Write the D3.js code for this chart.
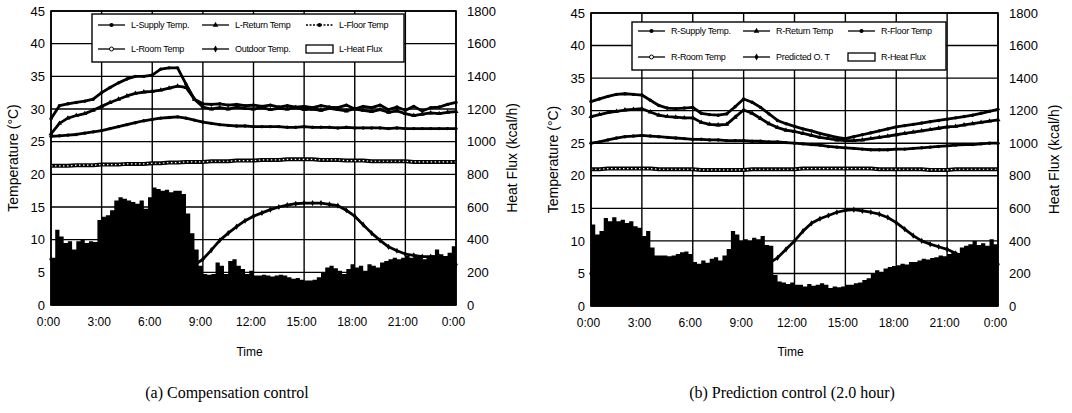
<!DOCTYPE html>
<html><head><meta charset="utf-8">
<script src="https://cdn.jsdelivr.net/npm/d3@7"></script>
<style>
body{margin:0;background:#fff}
svg{display:block}
text{font-family:"Liberation Sans",Arial,sans-serif;fill:#000}
</style></head>
<body><svg id="c" width="1072" height="413"></svg>
<script>
// ---------- data ----------
const timeTickLabels = ["0:00","3:00","6:00","9:00","12:00","15:00","18:00","21:00","0:00"];
const tempTicks = [0,5,10,15,20,25,30,35,40,45];
const fluxTicks = [0,200,400,600,800,1000,1200,1400,1600,1800];

// line series: every 30 min, 0:00 .. 24:00 (49 values)
const L_supply = [28.5,30.5,30.8,31.0,31.2,31.5,32.5,33.3,34.0,34.6,35.0,35.0,35.2,36.1,36.3,36.3,33.8,31.5,30.8,30.7,30.8,30.6,30.7,30.5,30.6,30.4,30.6,30.3,30.5,30.3,30.4,30.2,30.5,30.3,30.2,30.6,30.0,30.4,30.2,30.6,29.9,30.3,29.8,30.4,29.7,30.2,30.3,30.7,31.0];
const L_return = [26.2,27.8,28.6,29.0,29.3,29.8,30.4,31.0,31.5,32.0,32.4,32.6,32.7,32.9,33.2,33.5,33.3,31.5,30.3,30.0,30.2,30.0,30.3,30.1,30.0,30.2,29.9,30.1,30.0,30.2,29.9,30.0,29.8,30.1,29.9,29.7,30.0,29.8,29.6,29.9,29.5,29.7,29.3,29.0,29.2,29.4,29.3,29.5,29.6];
const L_floor  = [25.8,25.9,26.0,26.1,26.3,26.5,26.7,27.0,27.3,27.6,27.9,28.2,28.4,28.6,28.7,28.8,28.6,28.3,28.0,27.8,27.6,27.5,27.4,27.4,27.3,27.3,27.3,27.3,27.2,27.2,27.3,27.2,27.2,27.2,27.1,27.2,27.1,27.1,27.1,27.1,27.0,27.1,27.0,27.0,27.0,27.0,27.0,27.0,27.0];
const L_room   = [21.3,21.3,21.3,21.4,21.4,21.4,21.5,21.5,21.5,21.6,21.6,21.6,21.7,21.7,21.8,21.8,21.9,21.9,21.9,22.0,22.0,22.0,22.1,22.1,22.1,22.2,22.2,22.2,22.3,22.3,22.3,22.3,22.2,22.2,22.2,22.1,22.1,22.1,22.0,22.0,22.0,22.0,22.0,21.9,21.9,21.9,21.9,21.9,21.9];
const L_outdoor= [7.0,6.8,6.6,6.4,6.2,6.0,5.8,5.6,5.4,5.2,5.0,4.9,4.8,4.8,4.9,5.1,5.5,6.1,7.0,8.4,9.9,11.0,12.0,12.9,13.6,14.1,14.6,15.0,15.3,15.5,15.6,15.6,15.6,15.4,15.2,14.5,13.6,12.3,11.0,9.9,8.9,8.3,7.8,7.6,7.4,7.4,7.4,7.0,6.2];

const R_supply = [31.4,31.8,32.2,32.5,32.6,32.5,32.4,31.6,30.8,30.4,30.3,30.4,30.5,29.6,29.4,29.3,29.5,30.6,31.8,31.3,30.5,29.5,28.5,28.0,27.6,27.2,26.9,26.5,26.2,25.9,25.7,26.0,26.3,26.6,26.9,27.2,27.5,27.7,27.9,28.1,28.3,28.5,28.7,28.9,29.1,29.3,29.6,29.9,30.2];
const R_return = [29.1,29.4,29.7,29.9,30.1,30.2,30.3,29.8,29.3,29.1,29.0,28.9,28.9,28.2,27.9,27.8,27.9,29.0,30.1,29.6,28.8,28.0,27.4,27.0,26.8,26.5,26.2,25.9,25.7,25.5,25.4,25.4,25.5,25.7,25.9,26.1,26.3,26.5,26.7,26.9,27.1,27.3,27.5,27.6,27.8,28.0,28.2,28.4,28.6];
const R_floor  = [25.0,25.2,25.5,25.8,26.0,26.1,26.2,26.1,26.0,25.9,25.8,25.7,25.6,25.6,25.5,25.5,25.4,25.4,25.4,25.3,25.3,25.2,25.2,25.1,25.0,24.9,24.8,24.7,24.5,24.4,24.3,24.2,24.1,24.0,24.0,24.0,24.1,24.1,24.2,24.3,24.4,24.5,24.6,24.7,24.8,24.8,24.9,25.0,25.0];
const R_room   = [21.0,21.0,21.1,21.1,21.1,21.1,21.1,21.1,21.0,21.0,21.0,21.0,21.0,20.9,20.9,20.9,20.9,20.9,20.9,21.0,21.0,21.0,21.0,21.0,21.0,21.1,21.1,21.1,21.1,21.1,21.1,21.1,21.1,21.1,21.0,21.0,21.0,21.0,21.0,21.0,20.9,20.9,20.9,21.0,21.0,21.0,21.0,21.0,21.0];
const R_predOT = [5.0,4.8,4.6,4.4,4.2,4.0,3.8,3.6,3.4,3.3,3.2,3.1,3.0,3.0,3.1,3.3,3.7,4.2,4.8,5.4,6.0,6.6,7.4,8.7,10.0,11.5,12.7,13.4,13.9,14.4,14.7,14.8,14.6,14.4,14.1,13.6,12.8,11.8,10.8,10.0,9.5,9.1,8.7,8.1,7.6,7.2,6.9,6.6,6.4];

// heat flux (kcal/h): every 15 min, 0:00 .. 23:45 (96 values)
const L_flux = [290,460,420,380,390,340,390,400,380,390,385,520,540,550,580,640,660,650,640,630,620,640,590,660,720,710,700,705,690,700,700,680,560,440,340,240,190,185,190,260,240,190,270,280,240,220,190,210,180,180,185,180,175,180,185,180,170,160,165,155,150,150,155,170,200,230,240,225,210,190,220,250,230,240,210,250,240,230,260,270,280,290,280,290,300,290,295,300,280,290,305,340,310,300,320,360];
const R_flux = [500,440,460,540,520,545,520,530,510,520,490,480,430,460,360,310,310,310,305,310,320,330,335,320,270,260,280,265,290,300,280,310,350,460,440,400,410,400,420,410,430,375,370,190,150,145,135,145,130,130,120,135,125,130,140,130,110,120,115,120,130,130,140,145,160,170,200,220,210,230,240,245,250,260,255,270,270,280,290,285,295,300,310,305,320,330,325,360,370,380,400,375,385,370,410,380];

const L_names = ["L-Supply Temp.","L-Return Temp","L-Floor Temp","L-Room Temp","Outdoor Temp.","L-Heat Flux"];
const R_names = ["R-Supply Temp.","R-Return Temp","R-Floor Temp","R-Room Temp","Predicted O. T","R-Heat Flux"];

// ---------- drawing ----------
const svg = d3.select("#c");
const t30 = d3.range(49).map(i => i*0.5);
const t15 = d3.range(97).map(i => i*0.25);

function panel(o){
  const g = svg.append("g");
  const x = d3.scaleLinear().domain([0,24]).range([o.x0,o.x1]);
  const y = d3.scaleLinear().domain([0,45]).range([o.y1,o.y0]);
  const yf = d3.scaleLinear().domain([0,1800]).range([o.y1,o.y0]);

  // grid
  g.append("g").selectAll("line").data(tempTicks).join("line")
    .attr("x1",o.x0).attr("x2",o.x1).attr("y1",d=>y(d)).attr("y2",d=>y(d))
    .attr("stroke","#000").attr("stroke-width",1.4);
  g.append("g").selectAll("line").data(d3.range(0,25,3)).join("line")
    .attr("y1",o.y0).attr("y2",o.y1).attr("x1",d=>x(d)).attr("x2",d=>x(d))
    .attr("stroke","#000").attr("stroke-width",1.4);

  // heat flux area
  const fl = o.flux.concat([o.flux[o.flux.length-1]]);
  g.append("path").datum(fl)
    .attr("d", d3.area().curve(d3.curveStepAfter).x((d,i)=>x(t15[i])).y0(yf(0)).y1(d=>yf(d)))
    .attr("fill","#000");

  // line series
  const line = d3.line().x((d,i)=>x(t30[i])).y(d=>y(d));
  const series = [
    {v:o.supply, sym:d3.symbolCircle, size:9},
    {v:o.ret, sym:d3.symbolTriangle, size:11},
    {v:o.floor, sym:d3.symbolCircle, size:9},
    {v:o.out, sym:d3.symbolDiamond, size:11}
  ];
  series.forEach(s=>{
    g.append("path").datum(s.v).attr("d",line).attr("fill","none").attr("stroke","#000").attr("stroke-width",2.8).attr("stroke-linejoin","round");
    g.append("g").selectAll("path").data(s.v).join("path")
      .attr("transform",(d,i)=>`translate(${x(t30[i])},${y(d)})`)
      .attr("d",d3.symbol().type(s.sym).size(s.size)).attr("fill","#000");
  });
  // room temp: open circles look
  g.append("path").datum(o.room).attr("d",line).attr("fill","none").attr("stroke","#000").attr("stroke-width",4);
  g.append("path").datum(o.room).attr("d",line).attr("fill","none").attr("stroke","#fff").attr("stroke-width",1.2).attr("stroke-dasharray","1.5,2.5");

  // border
  g.append("rect").attr("x",o.x0).attr("y",o.y0).attr("width",o.x1-o.x0).attr("height",o.y1-o.y0)
    .attr("fill","none").attr("stroke","#000").attr("stroke-width",1.6);

  // axes
  const ax = g.append("g").attr("transform",`translate(${o.x0},0)`)
    .call(d3.axisLeft(y).tickValues(tempTicks).tickSize(0).tickPadding(6));
  ax.select(".domain").remove();
  ax.selectAll("text").style("font-size","13px").style("font-family","Liberation Sans, Arial, sans-serif");
  const axr = g.append("g").attr("transform",`translate(${o.x1},0)`)
    .call(d3.axisRight(yf).tickValues(fluxTicks).tickFormat(d3.format("d")).tickSize(0).tickPadding(11));
  axr.select(".domain").remove();
  axr.selectAll("text").style("font-size","13px").style("font-family","Liberation Sans, Arial, sans-serif");
  const xs = d3.scalePoint().domain(d3.range(9)).range([o.x0,o.x1]);
  const axb = g.append("g").attr("transform",`translate(-3,${o.y1})`)
    .call(d3.axisBottom(xs).tickSize(0).tickPadding(12).tickFormat(i=>timeTickLabels[i]));
  axb.select(".domain").remove();
  axb.selectAll("text").style("font-size","12px").style("font-family","Liberation Sans, Arial, sans-serif");

  // titles
  const cx = (o.x0+o.x1)/2, cy=(o.y0+o.y1)/2;
  g.append("text").attr("x",cx-4).attr("y",356).attr("text-anchor","middle").style("font-size","12px").text("Time");
  g.append("text").attr("transform",`translate(${o.x0-33},${cy}) rotate(-90)`).attr("text-anchor","middle").style("font-size","14px").text("Temperature (°C)");
  g.append("text").attr("transform",`translate(${o.x1+61},${cy}) rotate(-90)`).attr("text-anchor","middle").style("font-size","14px").text("Heat Flux (kcal/h)");
  g.append("text").attr("x",o.capX).attr("y",398).attr("text-anchor","middle")
    .style("font-family","Liberation Serif, 'DejaVu Serif', serif").style("font-size","16px").text(o.caption);

  // legend
  const L = o.leg;
  g.append("rect").attr("x",L.x).attr("y",L.y).attr("width",L.w).attr("height",L.h)
    .attr("fill","#fff").attr("stroke","#000").attr("stroke-width",1.4);
  const syms=[d3.symbolCircle,d3.symbolTriangle,d3.symbolCircle,"open",d3.symbolDiamond,"box"];
  o.names.forEach((nm,k)=>{
    const col=k%3, row=Math.floor(k/3);
    const lx = L.x + 6 + col*L.colW, ly = L.y + (row===0?L.r1:L.r2);
    const s = syms[k];
    if(s==="box"){
      g.append("rect").attr("x",lx).attr("y",ly-4).attr("width",27).attr("height",8).attr("fill","#fff").attr("stroke","#000").attr("stroke-width",1.3);
    } else {
      g.append("line").attr("x1",lx).attr("x2",lx+27).attr("y1",ly).attr("y2",ly).attr("stroke","#000").attr("stroke-width",1.3)
        .attr("stroke-dasharray",(o.side==="L"&&k===2)?"2,1.5":null);
      if(s==="open") g.append("circle").attr("cx",lx+13.5).attr("cy",ly).attr("r",2).attr("fill","#fff").attr("stroke","#000");
      else g.append("path").attr("transform",`translate(${lx+13.5},${ly})`).attr("d",d3.symbol().type(s).size(14)).attr("fill","#000");
    }
    g.append("text").attr("x",lx+33).attr("y",ly+3).style("font-size","9px").style("letter-spacing","-0.3px").text(nm);
  });
}

panel({x0:51,x1:456,y0:11,y1:305,flux:L_flux,supply:L_supply,ret:L_return,floor:L_floor,room:L_room,out:L_outdoor,
  names:L_names,side:"L",caption:"(a) Compensation control",capX:227,
  leg:{x:92,y:14,w:312,h:48,colW:104,r1:11,r2:35}});
panel({x0:591,x1:998,y0:13,y1:306,flux:R_flux,supply:R_supply,ret:R_return,floor:R_floor,room:R_room,out:R_predOT,
  names:R_names,side:"R",caption:"(b) Prediction control (2.0 hour)",capX:792,
  leg:{x:632,y:22,w:314,h:48,colW:105,r1:9,r2:35}});
</script></body></html>
